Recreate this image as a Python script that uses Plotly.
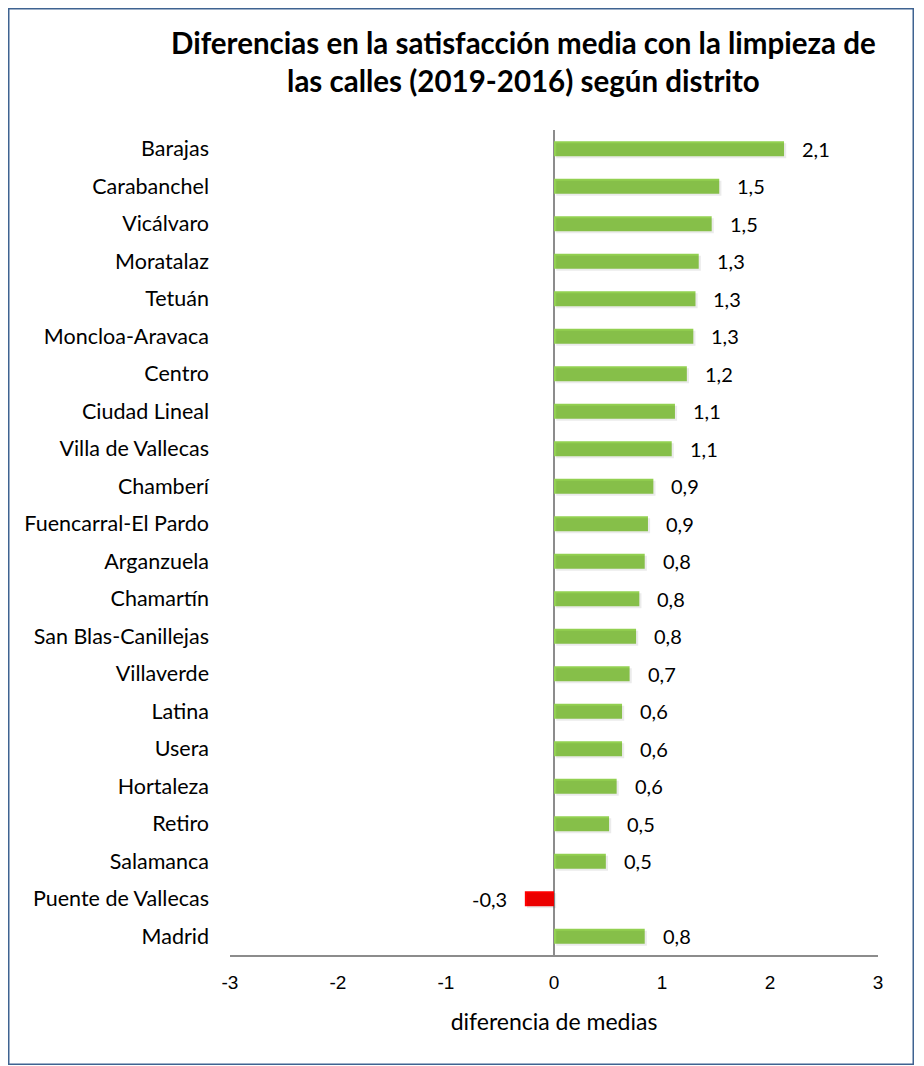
"""Horizontal bar chart: change in mean satisfaction with street cleaning by district."""
import plotly.graph_objects as go

districts = [
    "Barajas", "Carabanchel", "Vicálvaro", "Moratalaz", "Tetuán",
    "Moncloa-Aravaca", "Centro", "Ciudad Lineal", "Villa de Vallecas",
    "Chamberí", "Fuencarral-El Pardo", "Arganzuela", "Chamartín",
    "San Blas-Canillejas", "Villaverde", "Latina", "Usera", "Hortaleza",
    "Retiro", "Salamanca", "Puente de Vallecas", "Madrid",
]
diff = [
    2.13, 1.53, 1.46, 1.34, 1.31,
    1.29, 1.23, 1.12, 1.09,
    0.92, 0.87, 0.84, 0.79,
    0.76, 0.70, 0.63, 0.63, 0.58,
    0.51, 0.48, -0.27, 0.84,
]
x_ticks = [-3, -2, -1, 0, 1, 2, 3]
x_tick_text = ["-3", "-2", "-1", "0", "1", "2", "3"]

GREEN = "#92D050"
RED = "#FF0000"
FONT = "Lato, Carlito, 'Open Sans', sans-serif"

# figure geometry in px; the page body adds an 8px margin, so the figure
# edge doubles as the chart border
W, H = 906, 1057
L, R, T, B = 222, 36, 122, 110
pw, ph = W - L - R, H - T - B


def px_x(p):
    return (p - L) / pw


def px_y(p):
    return (H - B - p) / ph


colors = [RED if v < 0 else GREEN for v in diff]

fig = go.Figure()

# soft drop shadow under each bar
fig.add_trace(go.Bar(
    x=diff, y=districts, orientation="h", width=0.4, offset=-0.2 + 0.05,
    marker=dict(color="rgba(0,0,0,0.08)", line=dict(width=0)),
    hoverinfo="skip", showlegend=False, xaxis="x2",
))
fig.add_trace(go.Bar(
    x=diff, y=districts, orientation="h", width=0.4, offset=-0.2,
    marker=dict(color=colors, line=dict(width=0)),
    showlegend=False,
))

for name, v in zip(districts, diff):
    fig.add_annotation(
        x=v, y=name, text=f"{v:.1f}".replace(".", ","),
        showarrow=False, xanchor="left" if v >= 0 else "right",
        xshift=16 if v >= 0 else -16,
        font=dict(family=FONT, size=20, color="#000000"),
    )

fig.update_layout(
    width=W, height=H,
    margin=dict(l=L, r=R, t=T, b=B, pad=0),
    paper_bgcolor="white", plot_bgcolor="white",
    barmode="overlay",
    separators=",.",
    font=dict(family=FONT, size=21, color="#000000"),
    xaxis=dict(
        range=[-3, 3], tickvals=x_ticks, ticktext=x_tick_text, showgrid=False,
        zeroline=True, zerolinecolor="#8c8c8c", zerolinewidth=2,
        showline=True, linecolor="#8c8c8c", linewidth=2,
        ticks="", ticklen=0, ticklabelstandoff=9,
        tickfont=dict(family="'Liberation Sans', Arial, sans-serif", size=19),
        title=dict(text="diferencia de medias", standoff=22,
                   font=dict(family=FONT, size=23)),
    ),
    xaxis2=dict(range=[-3 - 0.02, 3 - 0.02], overlaying="x", visible=False),
    yaxis=dict(
        autorange="reversed", showgrid=False, zeroline=False,
        ticks="", ticklabelstandoff=20,
        tickfont=dict(family=FONT, size=21.5),
    ),
)

# chart border along the figure edge
fig.add_shape(
    type="rect", xref="paper", yref="paper",
    x0=px_x(0.75), x1=px_x(W - 0.75), y0=px_y(H - 0.75), y1=px_y(0.75),
    line=dict(color="#3F6391", width=1.5), fillcolor="rgba(0,0,0,0)",
    layer="below",
)

fig.add_annotation(
    xref="paper", yref="paper", x=px_x(515), y=px_y(54),
    text="<b>Diferencias en la satisfacción media con la limpieza de<br>"
         "las calles (2019-2016) según distrito</b>",
    showarrow=False, xanchor="center", yanchor="middle",
    font=dict(family=FONT, size=29.5, color="#000000"),
)

fig.write_html("out.html")
